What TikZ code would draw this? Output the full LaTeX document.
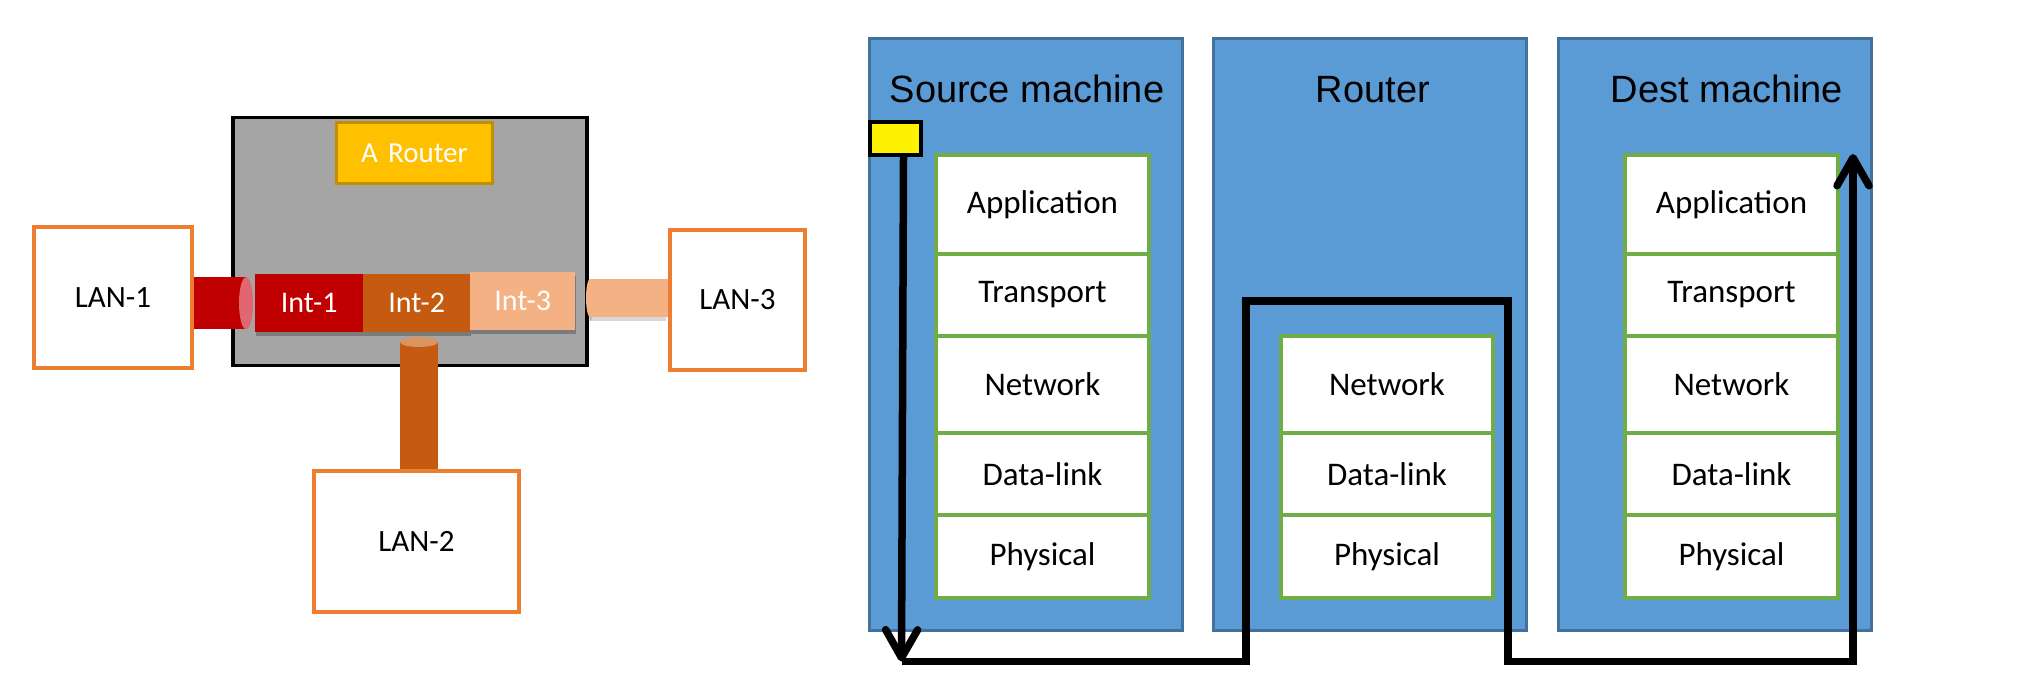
\documentclass[tikz,border=0pt]{standalone}
\usepackage{fontspec}
\setmainfont{Carlito}
\newfontfamily\arialf{Liberation Sans}
\usetikzlibrary{arrows.meta,shadows}
\definecolor{rgray}{HTML}{A5A5A5}
\definecolor{rgold}{HTML}{FFC000}
\definecolor{rgoldb}{HTML}{BF9000}
\definecolor{lanor}{HTML}{ED7D31}
\definecolor{ione}{HTML}{C00000}
\definecolor{itwo}{HTML}{C55A11}
\definecolor{ithree}{HTML}{F4B183}
\definecolor{ionecap}{HTML}{E06670}
\definecolor{itwocap}{HTML}{D9945F}
\definecolor{mblue}{HTML}{5B9BD5}
\definecolor{mblueb}{HTML}{41719C}
\definecolor{lgreen}{HTML}{70AD47}
\begin{document}
\begin{tikzpicture}[x=1pt,y=-1pt,
  sz/.style 2 args={minimum width=#1pt, minimum height=#2pt, inner sep=0pt, anchor=north west},
  lanbox/.style={draw=lanor, line width=4pt, fill=white, font=\fontsize{31}{34}\selectfont},
  intbox/.style={fill=#1, text=white, font=\fontsize{30}{32}\selectfont,
     drop shadow={shadow xshift=1pt, shadow yshift=-4pt, opacity=0.25, fill=black}},
  machine/.style={draw=mblueb, fill=mblue, line width=3pt},
  title/.style={font=\arialf\fontsize{38}{40}\selectfont, anchor=base},
  layer/.style={draw=lgreen, fill=white, line width=4pt, font=\fontsize{33}{35}\selectfont},
  flow/.style={line width=7.5pt, line join=miter},
  tipst/.style={-{Straight Barb[length=28pt, width=32pt, round]}}
]
\useasboundingbox (0,0) rectangle (2018,692);
% ---------- left part ----------
\node[sz={354}{248}, draw=black, fill=rgray, line width=3.5pt] (rbox) at (231,116) {};
\node[sz={156}{61}, draw=rgoldb, fill=rgold, line width=3pt, text=white,
      font=\fontsize{29}{31}\selectfont] (arouter) at (335,121) {A\hspace{0.35em}Router};
\node[sz={108}{58}, intbox=ione] (int1) at (255,274) {Int-1};
\node[sz={107}{58}, intbox=itwo] (int2) at (363,274) {Int-2};
\node[sz={105}{58}, intbox=ithree] (int3) at (470,272) {Int-3};
% LAN boxes
\node[sz={158}{141}, lanbox] (lan1) at (32,225) {LAN-1};
\node[sz={135}{140}, lanbox] (lan3) at (668,228) {LAN-3};
\node[sz={205}{141}, lanbox] (lan2) at (312,469) {LAN-2};
% cables
\coordinate (c1e) at ([xshift=-9pt]int1.west);
\draw[ione, line width=52pt] (lan1.east |- c1e) -- (c1e);
\fill[ionecap] (c1e) ellipse [x radius=7, y radius=26];
\coordinate (c3s) at (590,298);
\fill[black, opacity=0.15] ([yshift=-4pt]c3s) ellipse [x radius=4, y radius=19];
\fill[black, opacity=0.15] (590,283) rectangle ([xshift=-2pt]lan3.west |- 0,321);
\draw[ithree, line width=38pt] (c3s) -- (lan3.west |- c3s);
\fill[ithree] (c3s) ellipse [x radius=4, y radius=19];
\coordinate (c2t) at (419,342);
\draw[itwo, line width=38pt] (lan2.north -| c2t) -- (c2t);
\fill[itwocap] (c2t) ellipse [x radius=19, y radius=5];
% redraw LAN boxes on top of cables
\node[sz={158}{141}, lanbox] at (32,225) {LAN-1};
\node[sz={135}{140}, lanbox] at (668,228) {LAN-3};
\node[sz={205}{141}, lanbox] at (312,469) {LAN-2};
% ---------- right part ----------
\node[sz={313}{592}, machine] (src) at (868,37) {};
\node[sz={313}{592}, machine] (rtr) at (1212,37) {};
\node[sz={313}{592}, machine] (dst) at (1557,37) {};
\node[title] (tsrc) at (1027,103) {Source machine};
\node[title] (trtr) at (1373,103) {Router};
\node[title] (tdst) at (1727,103) {Dest machine};
% source stack
\node[sz={213}{99}, layer] (sapp) at (934,153) {Application};
\node[sz={213}{82}, layer] (strn) at (934,252) {Transport};
\node[sz={213}{97}, layer] (snet) at (934,334) {Network};
\node[sz={213}{82}, layer] (sdl) at (934,431) {Data-link};
\node[sz={213}{83}, layer] (sphy) at (934,513) {Physical};
% router stack
\node[sz={212}{97}, layer] (rnet) at (1279,334) {Network};
\node[sz={212}{82}, layer] (rdl) at (1279,431) {Data-link};
\node[sz={212}{83}, layer] (rphy) at (1279,513) {Physical};
% dest stack
\node[sz={213}{99}, layer] (dapp) at (1623,153) {Application};
\node[sz={213}{82}, layer] (dtrn) at (1623,252) {Transport};
\node[sz={213}{97}, layer] (dnet) at (1623,334) {Network};
\node[sz={213}{82}, layer] (ddl) at (1623,431) {Data-link};
\node[sz={213}{83}, layer] (dphy) at (1623,513) {Physical};
% yellow marker
\node[sz={51}{33}, draw=black, fill=yellow, line width=4pt] (ys) at (868,120) {};
% flow
\coordinate (p0) at ([xshift=8pt]ys.south);
\coordinate (p1) at (901.5,661.5);
\coordinate (p2) at (1246,661.5);
\coordinate (p3) at (1246,301);
\coordinate (p4) at (1508,301);
\coordinate (p5) at (1508,661.5);
\coordinate (p6) at (1853,661.5);
\coordinate (p7) at (1853,154);
\draw[flow, tipst] (p0) -- (p1);
\draw[flow, tipst] (p1) -- (p2) -- (p3) -- (p4) -- (p5) -- (p6) -- (p7);
\end{tikzpicture}
\end{document}
